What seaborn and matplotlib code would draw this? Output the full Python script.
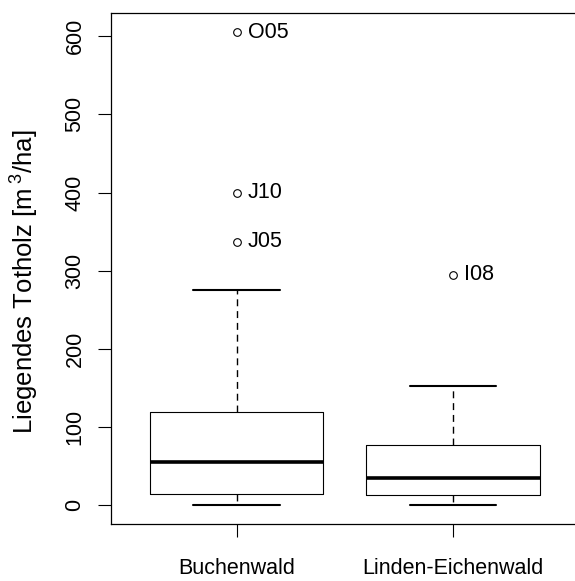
import matplotlib
matplotlib.use("Agg")
import matplotlib.pyplot as plt
import seaborn as sns
import pandas as pd

# Data (values chosen to reproduce the box statistics)
categories = ["Buchenwald", "Linden-Eichenwald"]
buchenwald = [0, 4, 8, 12, 15, 25, 35, 46, 56, 70, 85, 100, 120, 275, 337, 400, 605]
linden = [0, 6, 13, 24, 35, 55, 77, 153, 295]
outlier_group = [0, 0, 0, 1]
outlier_value = [605, 400, 337, 295]
outlier_label = ["O05", "J10", "J05", "I08"]
yticks = [0, 100, 200, 300, 400, 500, 600]

df = pd.DataFrame({
    "Typ": [categories[0]] * len(buchenwald) + [categories[1]] * len(linden),
    "Totholz": buchenwald + linden,
})

sns.set_style("white")
plt.rcParams["font.family"] = ["Liberation Sans", "DejaVu Sans"]
plt.rcParams["mathtext.fontset"] = "custom"
plt.rcParams["mathtext.rm"] = "Liberation Sans"
plt.rcParams["mathtext.default"] = "regular"
for k in ["text.color", "axes.labelcolor", "xtick.color", "ytick.color"]:
    plt.rcParams[k] = "black"

fs = 15.5
fig = plt.figure(figsize=(5.75, 5.81), dpi=100)
ax = fig.add_axes([111 / 575, 56.7 / 581, 467.6 / 575, 511 / 581])

sns.boxplot(
    data=df, x="Typ", y="Totholz", order=categories, ax=ax,
    width=0.8, whis=1.5, fill=False, color="black", linecolor="black",
    linewidth=0.8,
    boxprops=dict(linewidth=0.8, color="black"),
    medianprops=dict(linewidth=2.6, color="black", solid_capstyle="butt"),
    whiskerprops=dict(linewidth=1.0, color="black", linestyle=(0, (5, 3.5))),
    capprops=dict(linewidth=1.5, color="black"),
    flierprops=dict(marker="o", markerfacecolor="none", markeredgecolor="black",
                    markersize=5.5, markeredgewidth=0.8),
)

for g, v, lab in zip(outlier_group, outlier_value, outlier_label):
    ax.annotate(lab, xy=(g, v), xytext=(8, 0), textcoords="offset points",
                ha="left", va="center", fontsize=fs, color="black")

ax.set_xlim(-0.58, 1.58)
ax.set_ylim(-24.2, 629.2)
ax.set_yticks(yticks)
ax.set_yticklabels([str(t) for t in yticks], rotation=90, va="center")
ax.set_xlabel("")
ax.set_ylabel(r"Liegendes Totholz [m$\,^{3}$/ha]", fontsize=18.5, va="center")
ax.yaxis.set_label_coords(-0.184, 0.474)

ax.tick_params(axis="both", which="major", labelsize=fs, length=9.4, width=0.8,
               color="black", direction="out", left=True, bottom=True)
ax.tick_params(axis="y", pad=9)
ax.tick_params(axis="x", pad=15)

for s in ax.spines.values():
    s.set_visible(True)
    s.set_color("black")
    s.set_linewidth(0.9)

fig.savefig("out.png", dpi=100, facecolor="white")
